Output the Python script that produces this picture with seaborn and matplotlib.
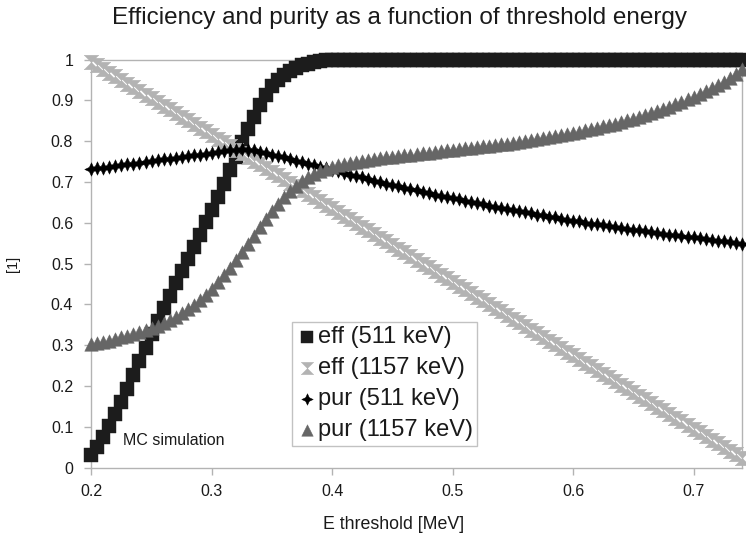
import numpy as np
import pandas as pd
import matplotlib
matplotlib.use("Agg")
import matplotlib.pyplot as plt
import seaborn as sns

# threshold grid (MeV), 0.200 ... 0.740 in 0.005 steps
e_threshold = np.round(np.arange(0.200, 0.7401, 0.005), 3)

eff_511 = [
    0.030, 0.050, 0.075, 0.102, 0.130, 0.160, 0.193, 0.226, 0.260, 0.294,
    0.327, 0.359, 0.390, 0.421, 0.451, 0.481, 0.511, 0.541, 0.571, 0.601,
    0.631, 0.662, 0.694, 0.728, 0.762, 0.797, 0.830, 0.860, 0.888, 0.913,
    0.934, 0.950, 0.963, 0.973, 0.980, 0.986, 0.990, 0.993, 0.996, 0.998,
    0.999,
] + [1.0] * 68

eff_1157 = [
    0.995, 0.986, 0.977, 0.968, 0.959, 0.950, 0.941, 0.932, 0.923, 0.914,
    0.905, 0.896, 0.887, 0.878, 0.869, 0.860, 0.851, 0.842, 0.833, 0.824,
    0.815, 0.806, 0.797, 0.788, 0.779, 0.770, 0.761, 0.752, 0.743, 0.734,
    0.725, 0.716, 0.707, 0.698, 0.689, 0.680, 0.671, 0.662, 0.653, 0.644,
    0.635, 0.626, 0.617, 0.608, 0.599, 0.590, 0.581, 0.572, 0.563, 0.554,
    0.545, 0.536, 0.527, 0.518, 0.509, 0.500, 0.491, 0.482, 0.473, 0.464,
    0.455, 0.446, 0.437, 0.428, 0.419, 0.410, 0.401, 0.392, 0.383, 0.374,
    0.365, 0.356, 0.347, 0.338, 0.329, 0.320, 0.311, 0.302, 0.293, 0.284,
    0.275, 0.266, 0.257, 0.248, 0.239, 0.230, 0.221, 0.212, 0.203, 0.194,
    0.185, 0.176, 0.167, 0.158, 0.149, 0.140, 0.131, 0.122, 0.113, 0.104,
    0.095, 0.086, 0.077, 0.068, 0.059, 0.050, 0.041, 0.032, 0.023,
]

pur_511 = [
    0.731, 0.733, 0.735, 0.737, 0.739, 0.741, 0.743, 0.745, 0.747, 0.749,
    0.751, 0.753, 0.755, 0.757, 0.759, 0.761, 0.763, 0.765, 0.767, 0.769,
    0.771, 0.773, 0.775, 0.777, 0.779, 0.780, 0.779, 0.777, 0.774, 0.771,
    0.767, 0.763, 0.760, 0.756, 0.752, 0.748, 0.745, 0.741, 0.737, 0.733,
    0.730, 0.726, 0.722, 0.718, 0.715, 0.711, 0.707, 0.703, 0.700, 0.696,
    0.692, 0.689, 0.685, 0.682, 0.679, 0.675, 0.672, 0.669, 0.666, 0.663,
    0.660, 0.657, 0.654, 0.651, 0.648, 0.645, 0.642, 0.639, 0.637, 0.634,
    0.631, 0.628, 0.626, 0.623, 0.620, 0.618, 0.615, 0.613, 0.610, 0.607,
    0.605, 0.603, 0.600, 0.598, 0.596, 0.594, 0.591, 0.589, 0.587, 0.585,
    0.583, 0.581, 0.579, 0.577, 0.575, 0.573, 0.571, 0.569, 0.567, 0.565,
    0.564, 0.562, 0.560, 0.558, 0.556, 0.554, 0.552, 0.550, 0.548,
]

pur_1157 = [
    0.302, 0.305, 0.308, 0.311, 0.315, 0.319, 0.323, 0.327, 0.332, 0.337,
    0.342, 0.348, 0.354, 0.361, 0.369, 0.378, 0.388, 0.399, 0.411, 0.424,
    0.438, 0.454, 0.471, 0.489, 0.508, 0.528, 0.548, 0.568, 0.589, 0.609,
    0.628, 0.646, 0.662, 0.677, 0.690, 0.701, 0.711, 0.719, 0.726, 0.732,
    0.737, 0.741, 0.744, 0.747, 0.750, 0.752, 0.754, 0.756, 0.758, 0.760,
    0.762, 0.764, 0.765, 0.767, 0.769, 0.770, 0.772, 0.774, 0.775, 0.777,
    0.778, 0.780, 0.782, 0.783, 0.785, 0.787, 0.789, 0.790, 0.792, 0.794,
    0.796, 0.798, 0.800, 0.802, 0.805, 0.807, 0.809, 0.812, 0.814, 0.817,
    0.820, 0.823, 0.826, 0.829, 0.832, 0.836, 0.839, 0.843, 0.847, 0.851,
    0.855, 0.859, 0.864, 0.869, 0.874, 0.879, 0.884, 0.890, 0.896, 0.902,
    0.908, 0.915, 0.922, 0.929, 0.937, 0.945, 0.954, 0.964, 0.976,
]

series_labels = ["eff (511 keV)", "eff (1157 keV)", "pur (511 keV)", "pur (1157 keV)"]
x_ticks = [0.2, 0.3, 0.4, 0.5, 0.6, 0.7]
x_tick_labels = ["0.2", "0.3", "0.4", "0.5", "0.6", "0.7"]
y_ticks = [0, 0.1, 0.2, 0.3, 0.4, 0.5, 0.6, 0.7, 0.8, 0.9, 1.0]
y_tick_labels = ["0", "0.1", "0.2", "0.3", "0.4", "0.5", "0.6", "0.7", "0.8", "0.9", "1"]

sns.set_theme(style="white")
plt.rcParams["font.family"] = ["Liberation Sans", "DejaVu Sans"]

W, H = 746, 537
fig = plt.figure(figsize=(W / 100, H / 100), dpi=100)
left, right, top, bottom = 91.3, 741.7, 59.5, 467.5
ax = fig.add_axes([left / W, 1 - bottom / H, (right - left) / W, (bottom - top) / H])

hourglass = [(-1, -1), (1, -1), (-1, 1), (1, 1), (-1, -1)]
star4 = [(0, 1), (0.32, 0.32), (1, 0), (0.32, -0.32), (0, -1),
         (-0.32, -0.32), (-1, 0), (-0.32, 0.32), (0, 1)]
styles = [
    (eff_511, "s", "#1c1c1c", 88),
    (eff_1157, hourglass, "#b3b3b3", 110),
    (pur_511, star4, "#000000", 95),
    (pur_1157, "^", "#666666", 95),
]

for (vals, mk, col, size), lab in zip(styles, series_labels):
    df = pd.DataFrame({"x": e_threshold, "y": vals})
    sns.scatterplot(data=df, x="x", y="y", marker=mk, color=col, s=size,
                    edgecolor=col, linewidth=0.3, label=lab, ax=ax,
                    clip_on=False, zorder=3)

ax.set_xlim(0.2, 0.74)
ax.set_ylim(0, 1)
ax.set_xticks(x_ticks)
ax.set_xticklabels(x_tick_labels)
ax.set_yticks(y_ticks)
ax.set_yticklabels(y_tick_labels)
ax.tick_params(axis="both", which="major", direction="out", length=5, width=1,
               color="#b3b3b3", labelsize=11.5, labelcolor="#1a1a1a",
               bottom=True, left=True)
ax.tick_params(axis="y", pad=8)
ax.tick_params(axis="x", pad=7)
for sp in ax.spines.values():
    sp.set_color("#b3b3b3")
    sp.set_linewidth(1.0)
    sp.set_visible(True)

ax.set_xlabel("E threshold [MeV]", fontsize=12.8, color="#1a1a1a")
ax.xaxis.set_label_coords(0.465, -0.118)
ax.set_ylabel("[1]", fontsize=10.5, color="#1a1a1a")
ax.yaxis.set_label_coords(-0.11, 0.5)

fig.text(400 / W, 1 - 18 / H, "Efficiency and purity as a function of threshold energy",
         ha="center", va="center", fontsize=17.5, color="#1a1a1a")

ax.text(0.226, 0.067, "MC simulation", fontsize=11.5, color="#1a1a1a",
        ha="left", va="center", transform=ax.transData)

leg = ax.legend(loc="lower left", bbox_to_anchor=(0.308, 0.053), fontsize=17,
                frameon=True, fancybox=False, edgecolor="#b3b3b3",
                handletextpad=0.0, handlelength=0.9, labelspacing=0.38,
                borderpad=0.2, borderaxespad=0.0, markerscale=0.85)
leg.get_frame().set_linewidth(1.0)
for t in leg.get_texts():
    t.set_color("#1a1a1a")

fig.savefig("out.png", dpi=100, facecolor="white")
